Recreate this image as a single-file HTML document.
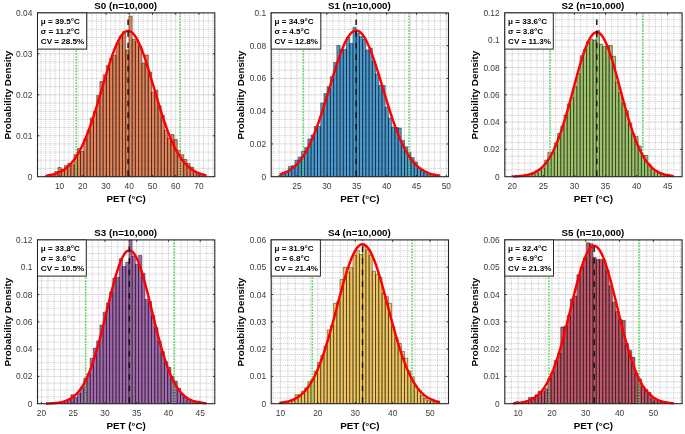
<!DOCTYPE html>
<html><head><meta charset="utf-8"><style>
html,body{margin:0;padding:0;background:#fff;}
svg{display:block;will-change:transform;filter:blur(0.35px);}
text{font-family:"Liberation Sans", sans-serif;}
.tk{font-size:8.4px;fill:#3a3a3a;}
.lb{font-size:9.8px;font-weight:bold;fill:#000;}
.bx{font-size:8.1px;font-weight:bold;fill:#000;}
</style></head><body>
<svg width="685" height="434" viewBox="0 0 685 434">
<rect width="685" height="434" fill="#fff"/>
<g><rect x="37.50" y="12.90" width="177.30" height="163.80" fill="#fff"/><path d="M40.96 12.90V176.70M45.60 12.90V176.70M50.25 12.90V176.70M54.90 12.90V176.70M64.19 12.90V176.70M68.83 12.90V176.70M73.48 12.90V176.70M78.13 12.90V176.70M87.42 12.90V176.70M92.07 12.90V176.70M96.71 12.90V176.70M101.36 12.90V176.70M110.65 12.90V176.70M115.30 12.90V176.70M119.94 12.90V176.70M124.59 12.90V176.70M133.88 12.90V176.70M138.53 12.90V176.70M143.18 12.90V176.70M147.82 12.90V176.70M157.12 12.90V176.70M161.76 12.90V176.70M166.41 12.90V176.70M171.05 12.90V176.70M180.35 12.90V176.70M184.99 12.90V176.70M189.64 12.90V176.70M194.29 12.90V176.70M203.58 12.90V176.70M208.23 12.90V176.70M212.87 12.90V176.70M37.50 168.51H214.80M37.50 160.32H214.80M37.50 152.13H214.80M37.50 143.94H214.80M37.50 127.56H214.80M37.50 119.37H214.80M37.50 111.18H214.80M37.50 102.99H214.80M37.50 86.61H214.80M37.50 78.42H214.80M37.50 70.23H214.80M37.50 62.04H214.80M37.50 45.66H214.80M37.50 37.47H214.80M37.50 29.28H214.80M37.50 21.09H214.80" stroke="#b4b4b4" stroke-width="0.75" stroke-dasharray="1 1" fill="none"/><path d="M59.54 12.90V176.70M82.77 12.90V176.70M106.01 12.90V176.70M129.24 12.90V176.70M152.47 12.90V176.70M175.70 12.90V176.70M198.93 12.90V176.70M37.50 135.75H214.80M37.50 94.80H214.80M37.50 53.85H214.80" stroke="#d2d2d2" stroke-width="0.8" fill="none"/><path d="M45.10 176.70V175.60H48.32V176.70M48.32 176.70V175.09H51.55V176.70M51.55 176.70V174.38H54.77V176.70M54.77 176.70V171.60H58.00V176.70M58.00 176.70V167.50H61.22V176.70M61.22 176.70V169.30H64.44V176.70M64.44 176.70V165.60H67.67V176.70M67.67 176.70V163.30H70.89V176.70M70.89 176.70V164.70H74.12V176.70M74.12 176.70V154.60H77.34V176.70M77.34 176.70V148.60H80.56V176.70M80.56 176.70V151.50H83.79V176.70M83.79 176.70V138.66H87.01V176.70M87.01 176.70V130.45H90.24V176.70M90.24 176.70V118.00H93.46V176.70M93.46 176.70V111.43H96.68V176.70M96.68 176.70V95.40H99.91V176.70M99.91 176.70V81.60H103.13V176.70M103.13 176.70V74.80H106.36V176.70M106.36 176.70V65.50H109.58V176.70M109.58 176.70V58.60H112.80V176.70M112.80 176.70V55.50H116.03V176.70M116.03 176.70V43.10H119.25V176.70M119.25 176.70V36.20H122.48V176.70M122.48 176.70V31.50H125.70V176.70M125.70 176.70V50.00H128.92V176.70M128.92 176.70V16.00H132.15V176.70M132.15 176.70V39.30H135.37V176.70M135.37 176.70V41.60H138.60V176.70M138.60 176.70V46.20H141.82V176.70M141.82 176.70V63.20H145.04V176.70M145.04 176.70V55.00H148.27V176.70M148.27 176.70V72.00H151.49V176.70M151.49 176.70V92.00H154.72V176.70M154.72 176.70V90.20H157.94V176.70M157.94 176.70V105.80H161.16V176.70M161.16 176.70V115.30H164.39V176.70M164.39 176.70V130.40H167.61V176.70M167.61 176.70V138.10H170.84V176.70M170.84 176.70V134.60H174.06V176.70M174.06 176.70V139.40H177.28V176.70M177.28 176.70V150.50H180.51V176.70M180.51 176.70V154.70H183.73V176.70M183.73 176.70V159.50H186.96V176.70M186.96 176.70V163.60H190.18V176.70M190.18 176.70V167.10H193.40V176.70M193.40 176.70V172.60H196.63V176.70M196.63 176.70V174.00H199.85V176.70M199.85 176.70V174.70H203.08V176.70M203.08 176.70V175.40H206.30V176.70" fill="#d95319" fill-opacity="0.7" stroke="#000" stroke-width="0.6" stroke-opacity="0.7"/><line x1="76.20" y1="176.70" x2="76.20" y2="12.90" stroke="#55d855" stroke-width="1.55" stroke-dasharray="1.6 1.3"/><line x1="180.10" y1="176.70" x2="180.10" y2="12.90" stroke="#55d855" stroke-width="1.55" stroke-dasharray="1.6 1.3"/><polyline points="46.00,175.69 47.34,175.52 48.67,175.31 50.01,175.08 51.34,174.81 52.68,174.51 54.02,174.16 55.35,173.77 56.69,173.32 58.02,172.81 59.36,172.24 60.69,171.60 62.03,170.88 63.37,170.08 64.70,169.19 66.04,168.20 67.37,167.10 68.71,165.90 70.05,164.57 71.38,163.12 72.72,161.53 74.05,159.80 75.39,157.93 76.72,155.90 78.06,153.71 79.40,151.36 80.73,148.84 82.07,146.15 83.40,143.29 84.74,140.26 86.07,137.06 87.41,133.69 88.75,130.16 90.08,126.47 91.42,122.63 92.75,118.65 94.09,114.54 95.43,110.32 96.76,106.00 98.10,101.59 99.43,97.12 100.77,92.60 102.11,88.06 103.44,83.53 104.78,79.01 106.11,74.55 107.45,70.17 108.78,65.89 110.12,61.74 111.46,57.75 112.79,53.95 114.13,50.36 115.46,47.00 116.80,43.91 118.13,41.10 119.47,38.60 120.81,36.42 122.14,34.58 123.48,33.10 124.81,31.98 126.15,31.24 127.49,30.87 128.82,30.90 130.16,31.30 131.49,32.09 132.83,33.25 134.16,34.78 135.50,36.66 136.84,38.87 138.17,41.42 139.51,44.26 140.84,47.38 142.18,50.77 143.52,54.38 144.85,58.21 146.19,62.22 147.52,66.38 148.86,70.68 150.20,75.07 151.53,79.54 152.87,84.05 154.20,88.59 155.54,93.13 156.87,97.64 158.21,102.11 159.55,106.51 160.88,110.82 162.22,115.03 163.55,119.12 164.89,123.09 166.22,126.91 167.56,130.58 168.90,134.09 170.23,137.44 171.57,140.62 172.90,143.63 174.24,146.47 175.58,149.14 176.91,151.64 178.25,153.97 179.58,156.14 180.92,158.15 182.25,160.01 183.59,161.72 184.93,163.29 186.26,164.73 187.60,166.04 188.93,167.24 190.27,168.32 191.61,169.30 192.94,170.18 194.28,170.97 195.61,171.68 196.95,172.31 198.29,172.87 199.62,173.37 200.96,173.81 202.29,174.20 203.63,174.55 204.96,174.85 206.30,175.11" fill="none" stroke="#f00" stroke-width="2.45" stroke-linejoin="round"/><line x1="128.08" y1="12.90" x2="128.08" y2="176.70" stroke="#111" stroke-width="1.45" stroke-dasharray="5.6 6.0" stroke-dashoffset="-6.60"/><path d="M59.54 176.70v-1.8M59.54 12.90v1.8M82.77 176.70v-1.8M82.77 12.90v1.8M106.01 176.70v-1.8M106.01 12.90v1.8M129.24 176.70v-1.8M129.24 12.90v1.8M152.47 176.70v-1.8M152.47 12.90v1.8M175.70 176.70v-1.8M175.70 12.90v1.8M198.93 176.70v-1.8M198.93 12.90v1.8M37.50 135.75h1.8M214.80 135.75h-1.8M37.50 94.80h1.8M214.80 94.80h-1.8M37.50 53.85h1.8M214.80 53.85h-1.8" stroke="#262626" stroke-width="1" fill="none"/><rect x="37.50" y="12.90" width="177.30" height="163.80" fill="none" stroke="#262626" stroke-width="1.1"/><text x="59.54" y="188.70" text-anchor="middle" class="tk">10</text><text x="82.77" y="188.70" text-anchor="middle" class="tk">20</text><text x="106.01" y="188.70" text-anchor="middle" class="tk">30</text><text x="129.24" y="188.70" text-anchor="middle" class="tk">40</text><text x="152.47" y="188.70" text-anchor="middle" class="tk">50</text><text x="175.70" y="188.70" text-anchor="middle" class="tk">60</text><text x="198.93" y="188.70" text-anchor="middle" class="tk">70</text><text x="32.40" y="179.70" text-anchor="end" class="tk">0</text><text x="32.40" y="138.75" text-anchor="end" class="tk">0.01</text><text x="32.40" y="97.80" text-anchor="end" class="tk">0.02</text><text x="32.40" y="56.85" text-anchor="end" class="tk">0.03</text><text x="32.40" y="15.90" text-anchor="end" class="tk">0.04</text><text x="126.15" y="202.30" text-anchor="middle" class="lb">PET (°C)</text><text x="125.65" y="8.80" text-anchor="middle" class="lb">S0 (n=10,000)</text><text transform="translate(10.70,95.10) rotate(-90)" text-anchor="middle" class="lb">Probability Density</text><rect x="37.50" y="12.90" width="49.20" height="36.2" fill="#fff" stroke="#262626" stroke-width="1"/><text x="40.80" y="24.30" class="bx">μ = 39.5°C</text><text x="40.80" y="34.25" class="bx">σ = 11.2°C</text><text x="40.80" y="44.20" class="bx">CV = 28.5%</text></g>
<g><rect x="271.20" y="12.90" width="177.30" height="163.80" fill="#fff"/><path d="M273.13 12.90V176.70M279.11 12.90V176.70M285.08 12.90V176.70M291.05 12.90V176.70M302.99 12.90V176.70M308.97 12.90V176.70M314.94 12.90V176.70M320.91 12.90V176.70M332.85 12.90V176.70M338.82 12.90V176.70M344.80 12.90V176.70M350.77 12.90V176.70M362.71 12.90V176.70M368.68 12.90V176.70M374.65 12.90V176.70M380.63 12.90V176.70M392.57 12.90V176.70M398.54 12.90V176.70M404.51 12.90V176.70M410.48 12.90V176.70M422.43 12.90V176.70M428.40 12.90V176.70M434.37 12.90V176.70M440.34 12.90V176.70M271.20 168.51H448.50M271.20 160.32H448.50M271.20 152.13H448.50M271.20 135.75H448.50M271.20 127.56H448.50M271.20 119.37H448.50M271.20 102.99H448.50M271.20 94.80H448.50M271.20 86.61H448.50M271.20 70.23H448.50M271.20 62.04H448.50M271.20 53.85H448.50M271.20 37.47H448.50M271.20 29.28H448.50M271.20 21.09H448.50" stroke="#b4b4b4" stroke-width="0.75" stroke-dasharray="1 1" fill="none"/><path d="M297.02 12.90V176.70M326.88 12.90V176.70M356.74 12.90V176.70M386.60 12.90V176.70M416.46 12.90V176.70M446.31 12.90V176.70M271.20 143.94H448.50M271.20 111.18H448.50M271.20 78.42H448.50M271.20 45.66H448.50" stroke="#d2d2d2" stroke-width="0.8" fill="none"/><path d="M278.80 176.70V175.00H282.02V176.70M282.02 176.70V173.50H285.25V176.70M285.25 176.70V171.10H288.47V176.70M288.47 176.70V166.40H291.70V176.70M291.70 176.70V165.60H294.92V176.70M294.92 176.70V160.20H298.14V176.70M298.14 176.70V157.00H301.37V176.70M301.37 176.70V151.50H304.59V176.70M304.59 176.70V147.60H307.82V176.70M307.82 176.70V139.00H311.04V176.70M311.04 176.70V135.00H314.26V176.70M314.26 176.70V126.50H317.49V176.70M317.49 176.70V126.50H320.71V176.70M320.71 176.70V102.90H323.94V176.70M323.94 176.70V93.60H327.16V176.70M327.16 176.70V86.70H330.38V176.70M330.38 176.70V76.40H333.61V176.70M333.61 176.70V62.50H336.83V176.70M336.83 176.70V45.50H340.06V176.70M340.06 176.70V49.30H343.28V176.70M343.28 176.70V49.30H346.50V176.70M346.50 176.70V37.20H349.73V176.70M349.73 176.70V43.50H352.95V176.70M352.95 176.70V27.40H356.18V176.70M356.18 176.70V33.20H359.40V176.70M359.40 176.70V36.60H362.62V176.70M362.62 176.70V39.50H365.85V176.70M365.85 176.70V50.00H369.07V176.70M369.07 176.70V48.10H372.30V176.70M372.30 176.70V61.60H375.52V176.70M375.52 176.70V74.00H378.74V176.70M378.74 176.70V85.50H381.97V176.70M381.97 176.70V85.50H385.19V176.70M385.19 176.70V107.20H388.42V176.70M388.42 176.70V118.00H391.64V176.70M391.64 176.70V127.00H394.86V176.70M394.86 176.70V127.50H398.09V176.70M398.09 176.70V128.00H401.31V176.70M401.31 176.70V140.50H404.54V176.70M404.54 176.70V146.80H407.76V176.70M407.76 176.70V152.20H410.98V176.70M410.98 176.70V157.60H414.21V176.70M414.21 176.70V162.00H417.43V176.70M417.43 176.70V167.40H420.66V176.70M420.66 176.70V170.10H423.88V176.70M423.88 176.70V171.90H427.10V176.70M427.10 176.70V173.70H430.33V176.70M430.33 176.70V174.60H433.55V176.70M433.55 176.70V175.20H436.78V176.70M436.78 176.70V175.50H440.00V176.70" fill="#0072bd" fill-opacity="0.7" stroke="#000" stroke-width="0.6" stroke-opacity="0.7"/><line x1="303.40" y1="176.70" x2="303.40" y2="12.90" stroke="#55d855" stroke-width="1.55" stroke-dasharray="1.6 1.3"/><line x1="409.00" y1="176.70" x2="409.00" y2="12.90" stroke="#55d855" stroke-width="1.55" stroke-dasharray="1.6 1.3"/><polyline points="279.70,174.28 281.04,173.91 282.37,173.49 283.71,173.02 285.04,172.49 286.38,171.89 287.71,171.23 289.05,170.49 290.39,169.66 291.72,168.75 293.06,167.74 294.39,166.63 295.73,165.41 297.07,164.07 298.40,162.61 299.74,161.02 301.07,159.29 302.41,157.42 303.75,155.41 305.08,153.24 306.42,150.91 307.75,148.43 309.09,145.78 310.42,142.97 311.76,140.00 313.10,136.87 314.43,133.57 315.77,130.12 317.10,126.53 318.44,122.78 319.77,118.91 321.11,114.91 322.45,110.79 323.78,106.58 325.12,102.29 326.45,97.94 327.79,93.53 329.13,89.10 330.46,84.67 331.80,80.25 333.13,75.87 334.47,71.56 335.81,67.33 337.14,63.23 338.48,59.26 339.81,55.46 341.15,51.84 342.48,48.45 343.82,45.28 345.16,42.38 346.49,39.76 347.83,37.43 349.16,35.42 350.50,33.74 351.83,32.40 353.17,31.41 354.51,30.78 355.84,30.52 357.18,30.62 358.51,31.09 359.85,31.91 361.19,33.10 362.52,34.63 363.86,36.49 365.19,38.68 366.53,41.17 367.87,43.95 369.20,47.00 370.54,50.29 371.87,53.81 373.21,57.53 374.54,61.43 375.88,65.48 377.22,69.65 378.55,73.93 379.89,78.28 381.22,82.68 382.56,87.11 383.89,91.55 385.23,95.97 386.57,100.35 387.90,104.67 389.24,108.92 390.57,113.08 391.91,117.13 393.25,121.06 394.58,124.87 395.92,128.53 397.25,132.05 398.59,135.41 399.92,138.62 401.26,141.66 402.60,144.55 403.93,147.26 405.27,149.82 406.60,152.22 407.94,154.45 409.28,156.54 410.61,158.47 411.95,160.26 413.28,161.91 414.62,163.43 415.95,164.83 417.29,166.10 418.63,167.26 419.96,168.31 421.30,169.27 422.63,170.13 423.97,170.91 425.31,171.61 426.64,172.23 427.98,172.79 429.31,173.29 430.65,173.73 431.98,174.12 433.32,174.46 434.66,174.77 435.99,175.03 437.33,175.27 438.66,175.47 440.00,175.65" fill="none" stroke="#f00" stroke-width="2.45" stroke-linejoin="round"/><line x1="356.14" y1="12.90" x2="356.14" y2="176.70" stroke="#111" stroke-width="1.45" stroke-dasharray="5.6 6.0" stroke-dashoffset="-6.60"/><path d="M297.02 176.70v-1.8M297.02 12.90v1.8M326.88 176.70v-1.8M326.88 12.90v1.8M356.74 176.70v-1.8M356.74 12.90v1.8M386.60 176.70v-1.8M386.60 12.90v1.8M416.46 176.70v-1.8M416.46 12.90v1.8M446.31 176.70v-1.8M446.31 12.90v1.8M271.20 143.94h1.8M448.50 143.94h-1.8M271.20 111.18h1.8M448.50 111.18h-1.8M271.20 78.42h1.8M448.50 78.42h-1.8M271.20 45.66h1.8M448.50 45.66h-1.8" stroke="#262626" stroke-width="1" fill="none"/><rect x="271.20" y="12.90" width="177.30" height="163.80" fill="none" stroke="#262626" stroke-width="1.1"/><text x="297.02" y="188.70" text-anchor="middle" class="tk">25</text><text x="326.88" y="188.70" text-anchor="middle" class="tk">30</text><text x="356.74" y="188.70" text-anchor="middle" class="tk">35</text><text x="386.60" y="188.70" text-anchor="middle" class="tk">40</text><text x="416.46" y="188.70" text-anchor="middle" class="tk">45</text><text x="446.31" y="188.70" text-anchor="middle" class="tk">50</text><text x="266.10" y="179.70" text-anchor="end" class="tk">0</text><text x="266.10" y="146.94" text-anchor="end" class="tk">0.02</text><text x="266.10" y="114.18" text-anchor="end" class="tk">0.04</text><text x="266.10" y="81.42" text-anchor="end" class="tk">0.06</text><text x="266.10" y="48.66" text-anchor="end" class="tk">0.08</text><text x="266.10" y="15.90" text-anchor="end" class="tk">0.1</text><text x="359.85" y="202.30" text-anchor="middle" class="lb">PET (°C)</text><text x="359.35" y="8.80" text-anchor="middle" class="lb">S1 (n=10,000)</text><text transform="translate(244.40,95.10) rotate(-90)" text-anchor="middle" class="lb">Probability Density</text><rect x="271.20" y="12.90" width="49.60" height="36.2" fill="#fff" stroke="#262626" stroke-width="1"/><text x="274.50" y="24.30" class="bx">μ = 34.9°C</text><text x="274.50" y="34.25" class="bx">σ = 4.5°C</text><text x="274.50" y="44.20" class="bx">CV = 12.8%</text></g>
<g><rect x="504.80" y="12.90" width="177.30" height="163.80" fill="#fff"/><path d="M505.98 12.90V176.70M518.42 12.90V176.70M524.64 12.90V176.70M530.86 12.90V176.70M537.08 12.90V176.70M549.52 12.90V176.70M555.74 12.90V176.70M561.96 12.90V176.70M568.18 12.90V176.70M580.62 12.90V176.70M586.84 12.90V176.70M593.06 12.90V176.70M599.28 12.90V176.70M611.72 12.90V176.70M617.94 12.90V176.70M624.16 12.90V176.70M630.38 12.90V176.70M642.82 12.90V176.70M649.04 12.90V176.70M655.26 12.90V176.70M661.48 12.90V176.70M673.92 12.90V176.70M680.14 12.90V176.70M504.80 169.88H682.10M504.80 163.05H682.10M504.80 156.23H682.10M504.80 142.58H682.10M504.80 135.75H682.10M504.80 128.93H682.10M504.80 115.28H682.10M504.80 108.45H682.10M504.80 101.62H682.10M504.80 87.97H682.10M504.80 81.15H682.10M504.80 74.33H682.10M504.80 60.67H682.10M504.80 53.85H682.10M504.80 47.03H682.10M504.80 33.38H682.10M504.80 26.55H682.10M504.80 19.72H682.10" stroke="#b4b4b4" stroke-width="0.75" stroke-dasharray="1 1" fill="none"/><path d="M512.20 12.90V176.70M543.30 12.90V176.70M574.40 12.90V176.70M605.50 12.90V176.70M636.60 12.90V176.70M667.70 12.90V176.70M504.80 149.40H682.10M504.80 122.10H682.10M504.80 94.80H682.10M504.80 67.50H682.10M504.80 40.20H682.10" stroke="#d2d2d2" stroke-width="0.8" fill="none"/><path d="M512.40 176.70V176.41H515.62V176.70M515.62 176.70V176.24H518.85V176.70M518.85 176.70V175.97H522.07V176.70M522.07 176.70V175.57H525.30V176.70M525.30 176.70V174.99H528.52V176.70M528.52 176.70V174.15H531.74V176.70M531.74 176.70V174.30H534.97V176.70M534.97 176.70V172.70H538.19V176.70M538.19 176.70V170.30H541.42V176.70M541.42 176.70V168.00H544.64V176.70M544.64 176.70V160.20H547.86V176.70M547.86 176.70V152.30H551.09V176.70M551.09 176.70V152.00H554.31V176.70M554.31 176.70V142.90H557.54V176.70M557.54 176.70V133.50H560.76V176.70M560.76 176.70V126.00H563.98V176.70M563.98 176.70V115.00H567.21V176.70M567.21 176.70V104.00H570.43V176.70M570.43 176.70V97.50H573.66V176.70M573.66 176.70V86.60H576.88V176.70M576.88 176.70V73.40H580.10V176.70M580.10 176.70V55.80H583.33V176.70M583.33 176.70V49.65H586.55V176.70M586.55 176.70V41.80H589.78V176.70M589.78 176.70V39.50H593.00V176.70M593.00 176.70V40.10H596.22V176.70M596.22 176.70V30.50H599.45V176.70M599.45 176.70V44.10H602.67V176.70M602.67 176.70V46.40H605.90V176.70M605.90 176.70V45.80H609.12V176.70M609.12 176.70V45.50H612.34V176.70M612.34 176.70V56.20H615.57V176.70M615.57 176.70V82.00H618.79V176.70M618.79 176.70V92.30H622.02V176.70M622.02 176.70V103.00H625.24V176.70M625.24 176.70V110.60H628.46V176.70M628.46 176.70V123.00H631.69V176.70M631.69 176.70V133.66H634.91V176.70M634.91 176.70V136.60H638.14V176.70M638.14 176.70V146.00H641.36V176.70M641.36 176.70V155.10H644.58V176.70M644.58 176.70V155.50H647.81V176.70M647.81 176.70V164.10H651.03V176.70M651.03 176.70V168.80H654.26V176.70M654.26 176.70V171.90H657.48V176.70M657.48 176.70V173.50H660.70V176.70M660.70 176.70V174.30H663.93V176.70M663.93 176.70V175.00H667.15V176.70M667.15 176.70V174.30H670.38V176.70M670.38 176.70V175.85H673.60V176.70" fill="#77ac30" fill-opacity="0.7" stroke="#000" stroke-width="0.6" stroke-opacity="0.7"/><line x1="550.20" y1="176.70" x2="550.20" y2="12.90" stroke="#55d855" stroke-width="1.55" stroke-dasharray="1.6 1.3"/><line x1="642.90" y1="176.70" x2="642.90" y2="12.90" stroke="#55d855" stroke-width="1.55" stroke-dasharray="1.6 1.3"/><polyline points="513.30,176.44 514.64,176.39 515.97,176.32 517.31,176.24 518.64,176.14 519.98,176.02 521.31,175.89 522.65,175.73 523.99,175.53 525.32,175.31 526.66,175.05 527.99,174.75 529.33,174.40 530.67,173.99 532.00,173.52 533.34,172.99 534.67,172.38 536.01,171.68 537.35,170.89 538.68,170.00 540.02,169.00 541.35,167.87 542.69,166.62 544.02,165.22 545.36,163.67 546.70,161.96 548.03,160.08 549.37,158.02 550.70,155.77 552.04,153.33 553.38,150.68 554.71,147.84 556.05,144.78 557.38,141.52 558.72,138.05 560.05,134.37 561.39,130.49 562.73,126.42 564.06,122.17 565.40,117.76 566.73,113.19 568.07,108.49 569.40,103.67 570.74,98.78 572.08,93.82 573.41,88.83 574.75,83.85 576.08,78.90 577.42,74.02 578.76,69.25 580.09,64.62 581.43,60.16 582.76,55.93 584.10,51.94 585.43,48.24 586.77,44.86 588.11,41.83 589.44,39.18 590.78,36.93 592.11,35.10 593.45,33.72 594.79,32.78 596.12,32.31 597.46,32.31 598.79,32.78 600.13,33.71 601.47,35.09 602.80,36.92 604.14,39.17 605.47,41.82 606.81,44.85 608.14,48.22 609.48,51.92 610.82,55.90 612.15,60.14 613.49,64.59 614.82,69.22 616.16,73.99 617.50,78.87 618.83,83.82 620.17,88.81 621.50,93.79 622.84,98.75 624.17,103.65 625.51,108.46 626.85,113.16 628.18,117.73 629.52,122.15 630.85,126.40 632.19,130.47 633.52,134.35 634.86,138.03 636.20,141.50 637.53,144.76 638.87,147.82 640.20,150.67 641.54,153.31 642.88,155.76 644.21,158.00 645.55,160.07 646.88,161.95 648.22,163.66 649.56,165.21 650.89,166.61 652.23,167.87 653.56,168.99 654.90,169.99 656.23,170.89 657.57,171.68 658.91,172.37 660.24,172.99 661.58,173.52 662.91,173.99 664.25,174.39 665.59,174.75 666.92,175.05 668.26,175.31 669.59,175.53 670.93,175.72 672.26,175.89 673.60,176.02" fill="none" stroke="#f00" stroke-width="2.45" stroke-linejoin="round"/><line x1="596.79" y1="12.90" x2="596.79" y2="176.70" stroke="#111" stroke-width="1.45" stroke-dasharray="5.6 6.0" stroke-dashoffset="-6.60"/><path d="M512.20 176.70v-1.8M512.20 12.90v1.8M543.30 176.70v-1.8M543.30 12.90v1.8M574.40 176.70v-1.8M574.40 12.90v1.8M605.50 176.70v-1.8M605.50 12.90v1.8M636.60 176.70v-1.8M636.60 12.90v1.8M667.70 176.70v-1.8M667.70 12.90v1.8M504.80 149.40h1.8M682.10 149.40h-1.8M504.80 122.10h1.8M682.10 122.10h-1.8M504.80 94.80h1.8M682.10 94.80h-1.8M504.80 67.50h1.8M682.10 67.50h-1.8M504.80 40.20h1.8M682.10 40.20h-1.8" stroke="#262626" stroke-width="1" fill="none"/><rect x="504.80" y="12.90" width="177.30" height="163.80" fill="none" stroke="#262626" stroke-width="1.1"/><text x="512.20" y="188.70" text-anchor="middle" class="tk">20</text><text x="543.30" y="188.70" text-anchor="middle" class="tk">25</text><text x="574.40" y="188.70" text-anchor="middle" class="tk">30</text><text x="605.50" y="188.70" text-anchor="middle" class="tk">35</text><text x="636.60" y="188.70" text-anchor="middle" class="tk">40</text><text x="667.70" y="188.70" text-anchor="middle" class="tk">45</text><text x="499.70" y="179.70" text-anchor="end" class="tk">0</text><text x="499.70" y="152.40" text-anchor="end" class="tk">0.02</text><text x="499.70" y="125.10" text-anchor="end" class="tk">0.04</text><text x="499.70" y="97.80" text-anchor="end" class="tk">0.06</text><text x="499.70" y="70.50" text-anchor="end" class="tk">0.08</text><text x="499.70" y="43.20" text-anchor="end" class="tk">0.1</text><text x="499.70" y="15.90" text-anchor="end" class="tk">0.12</text><text x="593.45" y="202.30" text-anchor="middle" class="lb">PET (°C)</text><text x="592.95" y="8.80" text-anchor="middle" class="lb">S2 (n=10,000)</text><text transform="translate(478.00,95.10) rotate(-90)" text-anchor="middle" class="lb">Probability Density</text><rect x="504.80" y="12.90" width="48.50" height="36.2" fill="#fff" stroke="#262626" stroke-width="1"/><text x="508.10" y="24.30" class="bx">μ = 33.6°C</text><text x="508.10" y="34.25" class="bx">σ = 3.8°C</text><text x="508.10" y="44.20" class="bx">CV = 11.3%</text></g>
<g><rect x="37.50" y="239.90" width="177.30" height="163.80" fill="#fff"/><path d="M47.88 239.90V403.70M54.22 239.90V403.70M60.57 239.90V403.70M66.92 239.90V403.70M79.61 239.90V403.70M85.96 239.90V403.70M92.31 239.90V403.70M98.65 239.90V403.70M111.35 239.90V403.70M117.69 239.90V403.70M124.04 239.90V403.70M130.39 239.90V403.70M143.08 239.90V403.70M149.43 239.90V403.70M155.77 239.90V403.70M162.12 239.90V403.70M174.81 239.90V403.70M181.16 239.90V403.70M187.51 239.90V403.70M193.86 239.90V403.70M206.55 239.90V403.70M212.90 239.90V403.70M37.50 396.88H214.80M37.50 390.05H214.80M37.50 383.23H214.80M37.50 369.58H214.80M37.50 362.75H214.80M37.50 355.93H214.80M37.50 342.28H214.80M37.50 335.45H214.80M37.50 328.62H214.80M37.50 314.98H214.80M37.50 308.15H214.80M37.50 301.33H214.80M37.50 287.68H214.80M37.50 280.85H214.80M37.50 274.03H214.80M37.50 260.38H214.80M37.50 253.55H214.80M37.50 246.73H214.80" stroke="#b4b4b4" stroke-width="0.75" stroke-dasharray="1 1" fill="none"/><path d="M41.53 239.90V403.70M73.26 239.90V403.70M105.00 239.90V403.70M136.73 239.90V403.70M168.47 239.90V403.70M200.20 239.90V403.70M37.50 376.40H214.80M37.50 349.10H214.80M37.50 321.80H214.80M37.50 294.50H214.80M37.50 267.20H214.80" stroke="#d2d2d2" stroke-width="0.8" fill="none"/><path d="M48.32 403.70V403.39H51.55V403.70M51.55 403.70V403.19H54.77V403.70M54.77 403.70V402.89H58.00V403.70M58.00 403.70V402.42H61.22V403.70M61.22 403.70V401.73H64.44V403.70M64.44 403.70V400.72H67.67V403.70M67.67 403.70V399.30H70.89V403.70M70.89 403.70V394.80H74.12V403.70M74.12 403.70V397.40H77.34V403.70M77.34 403.70V393.00H80.56V403.70M80.56 403.70V387.80H83.79V403.70M83.79 403.70V378.20H87.01V403.70M87.01 403.70V373.80H90.24V403.70M90.24 403.70V358.20H93.46V403.70M93.46 403.70V348.00H96.68V403.70M96.68 403.70V340.80H99.91V403.70M99.91 403.70V325.10H103.13V403.70M103.13 403.70V312.20H106.36V403.70M106.36 403.70V303.00H109.58V403.70M109.58 403.70V292.00H112.80V403.70M112.80 403.70V278.10H116.03V403.70M116.03 403.70V277.40H119.25V403.70M119.25 403.70V258.70H122.48V403.70M122.48 403.70V266.40H125.70V403.70M125.70 403.70V262.20H128.92V403.70M128.92 403.70V240.00H132.15V403.70M132.15 403.70V256.00H135.37V403.70M135.37 403.70V264.30H138.60V403.70M138.60 403.70V255.30H141.82V403.70M141.82 403.70V273.30H145.04V403.70M145.04 403.70V299.30H148.27V403.70M148.27 403.70V301.50H151.49V403.70M151.49 403.70V315.61H154.72V403.70M154.72 403.70V327.60H157.94V403.70M157.94 403.70V341.11H161.16V403.70M161.16 403.70V351.50H164.39V403.70M164.39 403.70V361.60H167.61V403.70M167.61 403.70V367.30H170.84V403.70M170.84 403.70V376.10H174.06V403.70M174.06 403.70V381.00H177.28V403.70M177.28 403.70V388.20H180.51V403.70M180.51 403.70V393.90H183.73V403.70M183.73 403.70V397.10H186.96V403.70M186.96 403.70V399.50H190.18V403.70M190.18 403.70V400.30H193.40V403.70M193.40 403.70V401.10H196.63V403.70M196.63 403.70V401.10H199.85V403.70M199.85 403.70V402.00H203.08V403.70M203.08 403.70V402.70H206.30V403.70" fill="#7e2f8e" fill-opacity="0.7" stroke="#000" stroke-width="0.6" stroke-opacity="0.7"/><line x1="85.60" y1="403.70" x2="85.60" y2="239.90" stroke="#55d855" stroke-width="1.55" stroke-dasharray="1.6 1.3"/><line x1="174.10" y1="403.70" x2="174.10" y2="239.90" stroke="#55d855" stroke-width="1.55" stroke-dasharray="1.6 1.3"/><polyline points="46.00,403.54 47.34,403.50 48.67,403.45 50.01,403.39 51.34,403.32 52.68,403.23 54.02,403.13 55.35,403.00 56.69,402.86 58.02,402.68 59.36,402.47 60.69,402.23 62.03,401.94 63.37,401.60 64.70,401.21 66.04,400.75 67.37,400.22 68.71,399.61 70.05,398.91 71.38,398.11 72.72,397.20 74.05,396.17 75.39,395.00 76.72,393.69 78.06,392.23 79.40,390.59 80.73,388.78 82.07,386.77 83.40,384.56 84.74,382.13 86.08,379.49 87.41,376.62 88.75,373.51 90.08,370.16 91.42,366.57 92.75,362.75 94.09,358.68 95.43,354.39 96.76,349.88 98.10,345.16 99.43,340.25 100.77,335.17 102.10,329.94 103.44,324.59 104.78,319.16 106.11,313.66 107.45,308.15 108.78,302.65 110.12,297.21 111.46,291.88 112.79,286.69 114.13,281.68 115.46,276.91 116.80,272.42 118.14,268.24 119.47,264.42 120.81,260.99 122.14,258.00 123.48,255.46 124.81,253.41 126.15,251.86 127.49,250.84 128.82,250.35 130.16,250.40 131.49,250.98 132.83,252.10 134.16,253.74 135.50,255.88 136.84,258.50 138.17,261.57 139.51,265.07 140.84,268.96 142.18,273.19 143.52,277.74 144.85,282.55 146.19,287.59 147.52,292.82 148.86,298.17 150.19,303.62 151.53,309.13 152.87,314.64 154.20,320.13 155.54,325.55 156.87,330.88 158.21,336.08 159.55,341.13 160.88,346.01 162.22,350.69 163.55,355.17 164.89,359.42 166.23,363.44 167.56,367.23 168.90,370.77 170.23,374.08 171.57,377.14 172.90,379.98 174.24,382.58 175.58,384.97 176.91,387.14 178.25,389.11 179.58,390.90 180.92,392.50 182.25,393.94 183.59,395.22 184.93,396.36 186.26,397.37 187.60,398.26 188.93,399.04 190.27,399.72 191.61,400.32 192.94,400.83 194.28,401.28 195.61,401.66 196.95,401.99 198.28,402.27 199.62,402.51 200.96,402.71 202.29,402.88 203.63,403.03 204.96,403.15 206.30,403.25" fill="none" stroke="#f00" stroke-width="2.45" stroke-linejoin="round"/><line x1="129.37" y1="239.90" x2="129.37" y2="403.70" stroke="#111" stroke-width="1.45" stroke-dasharray="5.6 6.0" stroke-dashoffset="-6.60"/><path d="M41.53 403.70v-1.8M41.53 239.90v1.8M73.26 403.70v-1.8M73.26 239.90v1.8M105.00 403.70v-1.8M105.00 239.90v1.8M136.73 403.70v-1.8M136.73 239.90v1.8M168.47 403.70v-1.8M168.47 239.90v1.8M200.20 403.70v-1.8M200.20 239.90v1.8M37.50 376.40h1.8M214.80 376.40h-1.8M37.50 349.10h1.8M214.80 349.10h-1.8M37.50 321.80h1.8M214.80 321.80h-1.8M37.50 294.50h1.8M214.80 294.50h-1.8M37.50 267.20h1.8M214.80 267.20h-1.8" stroke="#262626" stroke-width="1" fill="none"/><rect x="37.50" y="239.90" width="177.30" height="163.80" fill="none" stroke="#262626" stroke-width="1.1"/><text x="41.53" y="415.70" text-anchor="middle" class="tk">20</text><text x="73.26" y="415.70" text-anchor="middle" class="tk">25</text><text x="105.00" y="415.70" text-anchor="middle" class="tk">30</text><text x="136.73" y="415.70" text-anchor="middle" class="tk">35</text><text x="168.47" y="415.70" text-anchor="middle" class="tk">40</text><text x="200.20" y="415.70" text-anchor="middle" class="tk">45</text><text x="32.40" y="406.70" text-anchor="end" class="tk">0</text><text x="32.40" y="379.40" text-anchor="end" class="tk">0.02</text><text x="32.40" y="352.10" text-anchor="end" class="tk">0.04</text><text x="32.40" y="324.80" text-anchor="end" class="tk">0.06</text><text x="32.40" y="297.50" text-anchor="end" class="tk">0.08</text><text x="32.40" y="270.20" text-anchor="end" class="tk">0.1</text><text x="32.40" y="242.90" text-anchor="end" class="tk">0.12</text><text x="126.15" y="429.30" text-anchor="middle" class="lb">PET (°C)</text><text x="125.65" y="235.80" text-anchor="middle" class="lb">S3 (n=10,000)</text><text transform="translate(10.70,322.10) rotate(-90)" text-anchor="middle" class="lb">Probability Density</text><rect x="37.50" y="239.90" width="48.80" height="36.2" fill="#fff" stroke="#262626" stroke-width="1"/><text x="40.80" y="251.30" class="bx">μ = 33.8°C</text><text x="40.80" y="261.25" class="bx">σ = 3.6°C</text><text x="40.80" y="271.20" class="bx">CV = 10.5%</text></g>
<g><rect x="271.20" y="239.90" width="177.30" height="163.80" fill="#fff"/><path d="M272.91 239.90V403.70M287.88 239.90V403.70M295.37 239.90V403.70M302.85 239.90V403.70M310.34 239.90V403.70M325.31 239.90V403.70M332.79 239.90V403.70M340.27 239.90V403.70M347.76 239.90V403.70M362.73 239.90V403.70M370.21 239.90V403.70M377.70 239.90V403.70M385.18 239.90V403.70M400.15 239.90V403.70M407.63 239.90V403.70M415.12 239.90V403.70M422.60 239.90V403.70M437.57 239.90V403.70M445.06 239.90V403.70M271.20 398.24H448.50M271.20 392.78H448.50M271.20 387.32H448.50M271.20 381.86H448.50M271.20 370.94H448.50M271.20 365.48H448.50M271.20 360.02H448.50M271.20 354.56H448.50M271.20 343.64H448.50M271.20 338.18H448.50M271.20 332.72H448.50M271.20 327.26H448.50M271.20 316.34H448.50M271.20 310.88H448.50M271.20 305.42H448.50M271.20 299.96H448.50M271.20 289.04H448.50M271.20 283.58H448.50M271.20 278.12H448.50M271.20 272.66H448.50M271.20 261.74H448.50M271.20 256.28H448.50M271.20 250.82H448.50M271.20 245.36H448.50" stroke="#b4b4b4" stroke-width="0.75" stroke-dasharray="1 1" fill="none"/><path d="M280.40 239.90V403.70M317.82 239.90V403.70M355.24 239.90V403.70M392.67 239.90V403.70M430.09 239.90V403.70M271.20 376.40H448.50M271.20 349.10H448.50M271.20 321.80H448.50M271.20 294.50H448.50M271.20 267.20H448.50" stroke="#d2d2d2" stroke-width="0.8" fill="none"/><path d="M278.80 403.70V402.78H282.02V403.70M282.02 403.70V402.33H285.25V403.70M285.25 403.70V401.69H288.47V403.70M288.47 403.70V400.81H291.70V403.70M291.70 403.70V400.00H294.92V403.70M294.92 403.70V394.80H298.14V403.70M298.14 403.70V394.80H301.37V403.70M301.37 403.70V391.30H304.59V403.70M304.59 403.70V387.80H307.82V403.70M307.82 403.70V381.70H311.04V403.70M311.04 403.70V379.00H314.26V403.70M314.26 403.70V371.20H317.49V403.70M317.49 403.70V362.40H320.71V403.70M320.71 403.70V355.40H323.94V403.70M323.94 403.70V346.00H327.16V403.70M327.16 403.70V329.90H330.38V403.70M330.38 403.70V325.46H333.61V403.70M333.61 403.70V303.30H336.83V403.70M336.83 403.70V301.32H340.06V403.70M340.06 403.70V279.50H343.28V403.70M343.28 403.70V267.30H346.50V403.70M346.50 403.70V271.90H349.73V403.70M349.73 403.70V267.70H352.95V403.70M352.95 403.70V255.30H356.18V403.70M356.18 403.70V250.40H359.40V403.70M359.40 403.70V254.60H362.62V403.70M362.62 403.70V246.60H365.85V403.70M365.85 403.70V249.80H369.07V403.70M369.07 403.70V255.30H372.30V403.70M372.30 403.70V271.20H375.52V403.70M375.52 403.70V274.30H378.74V403.70M378.74 403.70V277.40H381.97V403.70M381.97 403.70V293.00H385.19V403.70M385.19 403.70V296.70H388.42V403.70M388.42 403.70V303.20H391.64V403.70M391.64 403.70V326.34H394.86V403.70M394.86 403.70V337.75H398.09V403.70M398.09 403.70V343.50H401.31V403.70M401.31 403.70V351.40H404.54V403.70M404.54 403.70V358.20H407.76V403.70M407.76 403.70V371.00H410.98V403.70M410.98 403.70V376.90H414.21V403.70M414.21 403.70V385.70H417.43V403.70M417.43 403.70V390.60H420.66V403.70M420.66 403.70V395.50H423.88V403.70M423.88 403.70V398.40H427.10V403.70M427.10 403.70V400.40H430.33V403.70M430.33 403.70V401.40H433.55V403.70M433.55 403.70V402.00H436.78V403.70M436.78 403.70V402.40H440.00V403.70" fill="#edb120" fill-opacity="0.7" stroke="#000" stroke-width="0.6" stroke-opacity="0.7"/><line x1="312.30" y1="403.70" x2="312.30" y2="239.90" stroke="#55d855" stroke-width="1.55" stroke-dasharray="1.6 1.3"/><line x1="412.10" y1="403.70" x2="412.10" y2="239.90" stroke="#55d855" stroke-width="1.55" stroke-dasharray="1.6 1.3"/><polyline points="279.70,402.86 281.04,402.71 282.37,402.53 283.71,402.32 285.04,402.08 286.38,401.81 287.71,401.49 289.05,401.13 290.39,400.72 291.72,400.25 293.06,399.72 294.39,399.12 295.73,398.44 297.07,397.68 298.40,396.83 299.74,395.88 301.07,394.82 302.41,393.65 303.75,392.35 305.08,390.92 306.42,389.34 307.75,387.62 309.09,385.74 310.42,383.70 311.76,381.48 313.10,379.08 314.43,376.50 315.77,373.73 317.10,370.77 318.44,367.62 319.77,364.27 321.11,360.73 322.45,357.00 323.78,353.08 325.12,348.99 326.45,344.72 327.79,340.30 329.13,335.72 330.46,331.02 331.80,326.21 333.13,321.30 334.47,316.32 335.81,311.29 337.14,306.24 338.48,301.19 339.81,296.17 341.15,291.22 342.48,286.36 343.82,281.63 345.16,277.04 346.49,272.65 347.83,268.47 349.16,264.54 350.50,260.89 351.84,257.54 353.17,254.52 354.51,251.86 355.84,249.56 357.18,247.66 358.51,246.17 359.85,245.10 361.19,244.45 362.52,244.24 363.86,244.46 365.19,245.12 366.53,246.21 367.87,247.71 369.20,249.62 370.54,251.92 371.87,254.60 373.21,257.63 374.54,260.99 375.88,264.65 377.22,268.59 378.55,272.77 379.89,277.17 381.22,281.75 382.56,286.49 383.90,291.36 385.23,296.31 386.57,301.33 387.90,306.38 389.24,311.43 390.57,316.46 391.91,321.44 393.25,326.34 394.58,331.15 395.92,335.85 397.25,340.42 398.59,344.84 399.93,349.10 401.26,353.19 402.60,357.10 403.93,360.83 405.27,364.37 406.60,367.71 407.94,370.86 409.28,373.81 410.61,376.58 411.95,379.15 413.28,381.54 414.62,383.75 415.96,385.79 417.29,387.67 418.63,389.39 419.96,390.96 421.30,392.39 422.63,393.68 423.97,394.85 425.31,395.91 426.64,396.86 427.98,397.71 429.31,398.46 430.65,399.14 431.99,399.74 433.32,400.27 434.66,400.73 435.99,401.14 437.33,401.50 438.66,401.82 440.00,402.09" fill="none" stroke="#f00" stroke-width="2.45" stroke-linejoin="round"/><line x1="362.50" y1="239.90" x2="362.50" y2="403.70" stroke="#111" stroke-width="1.45" stroke-dasharray="5.6 6.0" stroke-dashoffset="-6.60"/><path d="M280.40 403.70v-1.8M280.40 239.90v1.8M317.82 403.70v-1.8M317.82 239.90v1.8M355.24 403.70v-1.8M355.24 239.90v1.8M392.67 403.70v-1.8M392.67 239.90v1.8M430.09 403.70v-1.8M430.09 239.90v1.8M271.20 376.40h1.8M448.50 376.40h-1.8M271.20 349.10h1.8M448.50 349.10h-1.8M271.20 321.80h1.8M448.50 321.80h-1.8M271.20 294.50h1.8M448.50 294.50h-1.8M271.20 267.20h1.8M448.50 267.20h-1.8" stroke="#262626" stroke-width="1" fill="none"/><rect x="271.20" y="239.90" width="177.30" height="163.80" fill="none" stroke="#262626" stroke-width="1.1"/><text x="280.40" y="415.70" text-anchor="middle" class="tk">10</text><text x="317.82" y="415.70" text-anchor="middle" class="tk">20</text><text x="355.24" y="415.70" text-anchor="middle" class="tk">30</text><text x="392.67" y="415.70" text-anchor="middle" class="tk">40</text><text x="430.09" y="415.70" text-anchor="middle" class="tk">50</text><text x="266.10" y="406.70" text-anchor="end" class="tk">0</text><text x="266.10" y="379.40" text-anchor="end" class="tk">0.01</text><text x="266.10" y="352.10" text-anchor="end" class="tk">0.02</text><text x="266.10" y="324.80" text-anchor="end" class="tk">0.03</text><text x="266.10" y="297.50" text-anchor="end" class="tk">0.04</text><text x="266.10" y="270.20" text-anchor="end" class="tk">0.05</text><text x="266.10" y="242.90" text-anchor="end" class="tk">0.06</text><text x="359.85" y="429.30" text-anchor="middle" class="lb">PET (°C)</text><text x="359.35" y="235.80" text-anchor="middle" class="lb">S4 (n=10,000)</text><text transform="translate(244.40,322.10) rotate(-90)" text-anchor="middle" class="lb">Probability Density</text><rect x="271.20" y="239.90" width="49.20" height="36.2" fill="#fff" stroke="#262626" stroke-width="1"/><text x="274.50" y="251.30" class="bx">μ = 31.9°C</text><text x="274.50" y="261.25" class="bx">σ = 6.8°C</text><text x="274.50" y="271.20" class="bx">CV = 21.4%</text></g>
<g><rect x="504.80" y="239.90" width="177.30" height="163.80" fill="#fff"/><path d="M511.33 239.90V403.70M524.86 239.90V403.70M531.63 239.90V403.70M538.39 239.90V403.70M545.16 239.90V403.70M558.69 239.90V403.70M565.45 239.90V403.70M572.22 239.90V403.70M578.98 239.90V403.70M592.51 239.90V403.70M599.28 239.90V403.70M606.04 239.90V403.70M612.81 239.90V403.70M626.34 239.90V403.70M633.10 239.90V403.70M639.87 239.90V403.70M646.63 239.90V403.70M660.16 239.90V403.70M666.93 239.90V403.70M673.69 239.90V403.70M680.46 239.90V403.70M504.80 398.24H682.10M504.80 392.78H682.10M504.80 387.32H682.10M504.80 381.86H682.10M504.80 370.94H682.10M504.80 365.48H682.10M504.80 360.02H682.10M504.80 354.56H682.10M504.80 343.64H682.10M504.80 338.18H682.10M504.80 332.72H682.10M504.80 327.26H682.10M504.80 316.34H682.10M504.80 310.88H682.10M504.80 305.42H682.10M504.80 299.96H682.10M504.80 289.04H682.10M504.80 283.58H682.10M504.80 278.12H682.10M504.80 272.66H682.10M504.80 261.74H682.10M504.80 256.28H682.10M504.80 250.82H682.10M504.80 245.36H682.10" stroke="#b4b4b4" stroke-width="0.75" stroke-dasharray="1 1" fill="none"/><path d="M518.10 239.90V403.70M551.92 239.90V403.70M585.75 239.90V403.70M619.57 239.90V403.70M653.40 239.90V403.70M504.80 376.40H682.10M504.80 349.10H682.10M504.80 321.80H682.10M504.80 294.50H682.10M504.80 267.20H682.10" stroke="#d2d2d2" stroke-width="0.8" fill="none"/><path d="M512.40 403.70V403.26H515.62V403.70M515.62 403.70V401.80H518.85V403.70M518.85 403.70V402.61H522.07V403.70M522.07 403.70V402.03H525.30V403.70M525.30 403.70V401.19H528.52V403.70M528.52 403.70V397.40H531.74V403.70M531.74 403.70V397.40H534.97V403.70M534.97 403.70V394.80H538.19V403.70M538.19 403.70V391.30H541.42V403.70M541.42 403.70V391.30H544.64V403.70M544.64 403.70V388.70H547.86V403.70M547.86 403.70V378.20H551.09V403.70M551.09 403.70V372.00H554.31V403.70M554.31 403.70V360.60H557.54V403.70M557.54 403.70V353.00H560.76V403.70M560.76 403.70V327.00H563.98V403.70M563.98 403.70V326.00H567.21V403.70M567.21 403.70V315.60H570.43V403.70M570.43 403.70V299.00H573.66V403.70M573.66 403.70V296.00H576.88V403.70M576.88 403.70V274.70H580.10V403.70M580.10 403.70V267.00H583.33V403.70M583.33 403.70V257.75H586.55V403.70M586.55 403.70V242.80H589.78V403.70M589.78 403.70V243.80H593.00V403.70M593.00 403.70V257.40H596.22V403.70M596.22 403.70V259.40H599.45V403.70M599.45 403.70V259.40H602.67V403.70M602.67 403.70V260.18H605.90V403.70M605.90 403.70V270.00H609.12V403.70M609.12 403.70V285.70H612.34V403.70M612.34 403.70V301.90H615.57V403.70M615.57 403.70V311.50H618.79V403.70M618.79 403.70V319.60H622.02V403.70M622.02 403.70V320.40H625.24V403.70M625.24 403.70V343.50H628.46V403.70M628.46 403.70V350.40H631.69V403.70M631.69 403.70V357.30H634.91V403.70M634.91 403.70V373.00H638.14V403.70M638.14 403.70V378.80H641.36V403.70M641.36 403.70V386.70H644.58V403.70M644.58 403.70V389.60H647.81V403.70M647.81 403.70V392.50H651.03V403.70M651.03 403.70V398.40H654.26V403.70M654.26 403.70V400.40H657.48V403.70M657.48 403.70V400.40H660.70V403.70M660.70 403.70V401.40H663.93V403.70M663.93 403.70V402.00H667.15V403.70M667.15 403.70V402.30H670.38V403.70M670.38 403.70V402.70H673.60V403.70" fill="#a2142f" fill-opacity="0.7" stroke="#000" stroke-width="0.6" stroke-opacity="0.7"/><line x1="549.00" y1="403.70" x2="549.00" y2="239.90" stroke="#55d855" stroke-width="1.55" stroke-dasharray="1.6 1.3"/><line x1="638.90" y1="403.70" x2="638.90" y2="239.90" stroke="#55d855" stroke-width="1.55" stroke-dasharray="1.6 1.3"/><polyline points="513.30,403.31 514.64,403.22 515.97,403.12 517.31,403.00 518.64,402.86 519.98,402.69 521.31,402.49 522.65,402.25 523.99,401.98 525.32,401.66 526.66,401.28 527.99,400.85 529.33,400.36 530.67,399.79 532.00,399.14 533.34,398.40 534.67,397.55 536.01,396.60 537.34,395.53 538.68,394.32 540.02,392.97 541.35,391.47 542.69,389.80 544.02,387.96 545.36,385.93 546.70,383.70 548.03,381.27 549.37,378.63 550.70,375.77 552.04,372.68 553.38,369.36 554.71,365.81 556.05,362.03 557.38,358.03 558.72,353.80 560.05,349.36 561.39,344.72 562.73,339.89 564.06,334.90 565.40,329.75 566.73,324.48 568.07,319.11 569.40,313.68 570.74,308.20 572.08,302.73 573.41,297.29 574.75,291.92 576.08,286.67 577.42,281.58 578.76,276.67 580.09,272.01 581.43,267.61 582.76,263.53 584.10,259.80 585.43,256.46 586.77,253.53 588.11,251.04 589.44,249.02 590.78,247.48 592.11,246.45 593.45,245.93 594.79,245.92 596.12,246.43 597.46,247.45 598.79,248.97 600.13,250.97 601.47,253.45 602.80,256.36 604.14,259.70 605.47,263.41 606.81,267.48 608.14,271.87 609.48,276.53 610.82,281.42 612.15,286.51 613.49,291.76 614.82,297.12 616.16,302.56 617.50,308.04 618.83,313.51 620.17,318.95 621.50,324.32 622.84,329.59 624.17,334.74 625.51,339.74 626.85,344.58 628.18,349.22 629.52,353.67 630.85,357.90 632.19,361.91 633.52,365.70 634.86,369.25 636.20,372.58 637.53,375.67 638.87,378.54 640.20,381.19 641.54,383.63 642.88,385.86 644.21,387.90 645.55,389.75 646.88,391.42 648.22,392.93 649.56,394.28 650.89,395.49 652.23,396.57 653.56,397.53 654.90,398.37 656.23,399.12 657.57,399.77 658.91,400.34 660.24,400.84 661.58,401.27 662.91,401.65 664.25,401.97 665.59,402.24 666.92,402.48 668.26,402.68 669.59,402.85 670.93,403.00 672.26,403.12 673.60,403.22" fill="none" stroke="#f00" stroke-width="2.45" stroke-linejoin="round"/><line x1="594.14" y1="239.90" x2="594.14" y2="403.70" stroke="#111" stroke-width="1.45" stroke-dasharray="5.6 6.0" stroke-dashoffset="-6.60"/><path d="M518.10 403.70v-1.8M518.10 239.90v1.8M551.92 403.70v-1.8M551.92 239.90v1.8M585.75 403.70v-1.8M585.75 239.90v1.8M619.57 403.70v-1.8M619.57 239.90v1.8M653.40 403.70v-1.8M653.40 239.90v1.8M504.80 376.40h1.8M682.10 376.40h-1.8M504.80 349.10h1.8M682.10 349.10h-1.8M504.80 321.80h1.8M682.10 321.80h-1.8M504.80 294.50h1.8M682.10 294.50h-1.8M504.80 267.20h1.8M682.10 267.20h-1.8" stroke="#262626" stroke-width="1" fill="none"/><rect x="504.80" y="239.90" width="177.30" height="163.80" fill="none" stroke="#262626" stroke-width="1.1"/><text x="518.10" y="415.70" text-anchor="middle" class="tk">10</text><text x="551.92" y="415.70" text-anchor="middle" class="tk">20</text><text x="585.75" y="415.70" text-anchor="middle" class="tk">30</text><text x="619.57" y="415.70" text-anchor="middle" class="tk">40</text><text x="653.40" y="415.70" text-anchor="middle" class="tk">50</text><text x="499.70" y="406.70" text-anchor="end" class="tk">0</text><text x="499.70" y="379.40" text-anchor="end" class="tk">0.01</text><text x="499.70" y="352.10" text-anchor="end" class="tk">0.02</text><text x="499.70" y="324.80" text-anchor="end" class="tk">0.03</text><text x="499.70" y="297.50" text-anchor="end" class="tk">0.04</text><text x="499.70" y="270.20" text-anchor="end" class="tk">0.05</text><text x="499.70" y="242.90" text-anchor="end" class="tk">0.06</text><text x="593.45" y="429.30" text-anchor="middle" class="lb">PET (°C)</text><text x="592.95" y="235.80" text-anchor="middle" class="lb">S5 (n=10,000)</text><text transform="translate(478.00,322.10) rotate(-90)" text-anchor="middle" class="lb">Probability Density</text><rect x="504.80" y="239.90" width="48.70" height="36.2" fill="#fff" stroke="#262626" stroke-width="1"/><text x="508.10" y="251.30" class="bx">μ = 32.4°C</text><text x="508.10" y="261.25" class="bx">σ = 6.9°C</text><text x="508.10" y="271.20" class="bx">CV = 21.3%</text></g>
</svg></body></html>
